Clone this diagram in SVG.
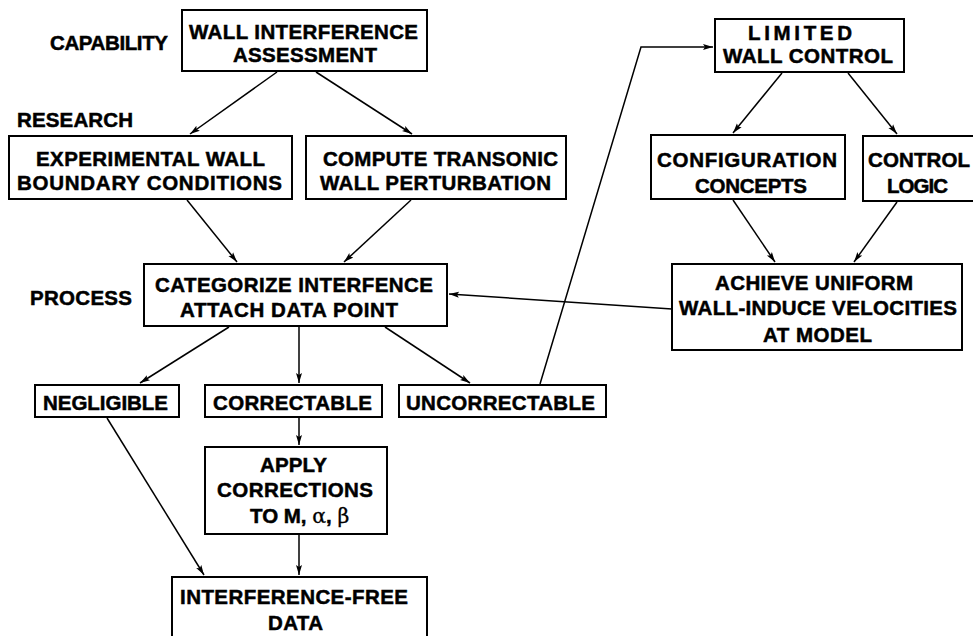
<svg xmlns="http://www.w3.org/2000/svg" width="973" height="636" viewBox="0 0 973 636">
<defs>
<marker id="ah" markerUnits="userSpaceOnUse" markerWidth="12" markerHeight="8" refX="10" refY="4" orient="auto">
<path d="M0,1 L10,4 L0,7 L2,4 Z" fill="#000"/>
</marker>
<style>
.box{fill:#fff;stroke:#000;stroke-width:2}
.t{font-family:"Liberation Sans",Arial,Helvetica,sans-serif;font-weight:bold;font-size:20.5px;fill:#000;stroke:#000;stroke-width:0.5}
.c{fill:none;stroke:#000;stroke-width:1.5;marker-end:url(#ah)}
.g{font-weight:normal;font-family:"DejaVu Serif",serif;stroke-width:0.3}
</style>
</defs>
<rect width="973" height="636" fill="#fff"/>

<g id="labels">
<text class="t" x="50" y="50" textLength="118">CAPABILITY</text>
<text class="t" x="17" y="127" textLength="116">RESEARCH</text>
<text class="t" x="30" y="305" textLength="102">PROCESS</text>
</g>

<g id="connectors">
<line class="c" x1="277" y1="72" x2="190" y2="134"/>
<line class="c" x1="316" y1="72" x2="412" y2="134"/>
<line class="c" x1="187" y1="200" x2="237" y2="262"/>
<line class="c" x1="411" y1="200" x2="344" y2="262"/>
<line class="c" x1="782" y1="73" x2="733" y2="133"/>
<line class="c" x1="848" y1="73" x2="897" y2="134"/>
<line class="c" x1="733" y1="200" x2="775" y2="262"/>
<line class="c" x1="897" y1="202" x2="854" y2="262"/>
<line class="c" x1="672" y1="309" x2="449" y2="294"/>
<polyline class="c" points="540,384 641,47 713,47"/>
<line class="c" x1="229" y1="327" x2="140" y2="383"/>
<line class="c" x1="299" y1="327" x2="299" y2="383"/>
<line class="c" x1="385" y1="327" x2="470" y2="383"/>
<line class="c" x1="299" y1="418" x2="299" y2="445"/>
<line class="c" x1="107" y1="418" x2="204" y2="575"/>
<line class="c" x1="299" y1="535" x2="299" y2="575"/>
</g>

<g id="wall-interference-assessment">
<rect class="box" x="182" y="10" width="245" height="61"/>
<text class="t" x="189" y="39" textLength="229">WALL INTERFERENCE</text>
<text class="t" x="233" y="62" textLength="144">ASSESSMENT</text>
</g>

<g id="experimental-wall">
<rect class="box" x="9" y="136" width="283" height="63"/>
<text class="t" x="36" y="166" textLength="229">EXPERIMENTAL WALL</text>
<text class="t" x="17" y="190" textLength="265">BOUNDARY CONDITIONS</text>
</g>

<g id="compute-transonic">
<rect class="box" x="306" y="136" width="260" height="63"/>
<text class="t" x="323" y="166" textLength="235">COMPUTE TRANSONIC</text>
<text class="t" x="320" y="190" textLength="231">WALL PERTURBATION</text>
</g>

<g id="limited-wall-control">
<rect class="box" x="715" y="19" width="189" height="53"/>
<text class="t" x="748" y="40" textLength="104">LIMITED</text>
<text class="t" x="723" y="63" textLength="170">WALL CONTROL</text>
</g>

<g id="configuration-concepts">
<rect class="box" x="651" y="135" width="194" height="64"/>
<text class="t" x="657" y="167" textLength="180">CONFIGURATION</text>
<text class="t" x="695" y="193" textLength="112">CONCEPTS</text>
</g>

<g id="control-logic">
<rect class="box" x="863" y="136" width="115" height="65"/>
<text class="t" x="868" y="167" textLength="102">CONTROL</text>
<text class="t" x="887" y="193" textLength="61">LOGIC</text>
</g>

<g id="categorize">
<rect class="box" x="144" y="264" width="303" height="62"/>
<text class="t" x="155" y="292" textLength="278">CATEGORIZE INTERFENCE</text>
<text class="t" x="180" y="317" textLength="218">ATTACH DATA POINT</text>
</g>

<g id="achieve-uniform">
<rect class="box" x="672" y="264" width="290" height="86"/>
<text class="t" x="715" y="290" textLength="198">ACHIEVE UNIFORM</text>
<text class="t" x="679" y="315" textLength="278">WALL-INDUCE VELOCITIES</text>
<text class="t" x="763" y="342" textLength="109">AT MODEL</text>
</g>

<g id="negligible">
<rect class="box" x="35" y="385" width="144" height="32"/>
<text class="t" x="43" y="410" textLength="125">NEGLIGIBLE</text>
</g>

<g id="correctable">
<rect class="box" x="205" y="385" width="177" height="32"/>
<text class="t" x="213" y="410" textLength="159">CORRECTABLE</text>
</g>

<g id="uncorrectable">
<rect class="box" x="399" y="385" width="207" height="32"/>
<text class="t" x="406" y="410" textLength="189">UNCORRECTABLE</text>
</g>

<g id="apply-corrections">
<rect class="box" x="205" y="447" width="182" height="87"/>
<text class="t" x="260" y="472" textLength="67">APPLY</text>
<text class="t" x="217" y="497" textLength="156">CORRECTIONS</text>
<text class="t" x="250" y="523">TO M, <tspan class="g">α</tspan>, <tspan class="g">β</tspan></text>
</g>

<g id="interference-free-data">
<rect class="box" x="172" y="577" width="255" height="70"/>
<text class="t" x="180" y="604" textLength="228">INTERFERENCE-FREE</text>
<text class="t" x="268" y="630" textLength="55">DATA</text>
</g>
</svg>
